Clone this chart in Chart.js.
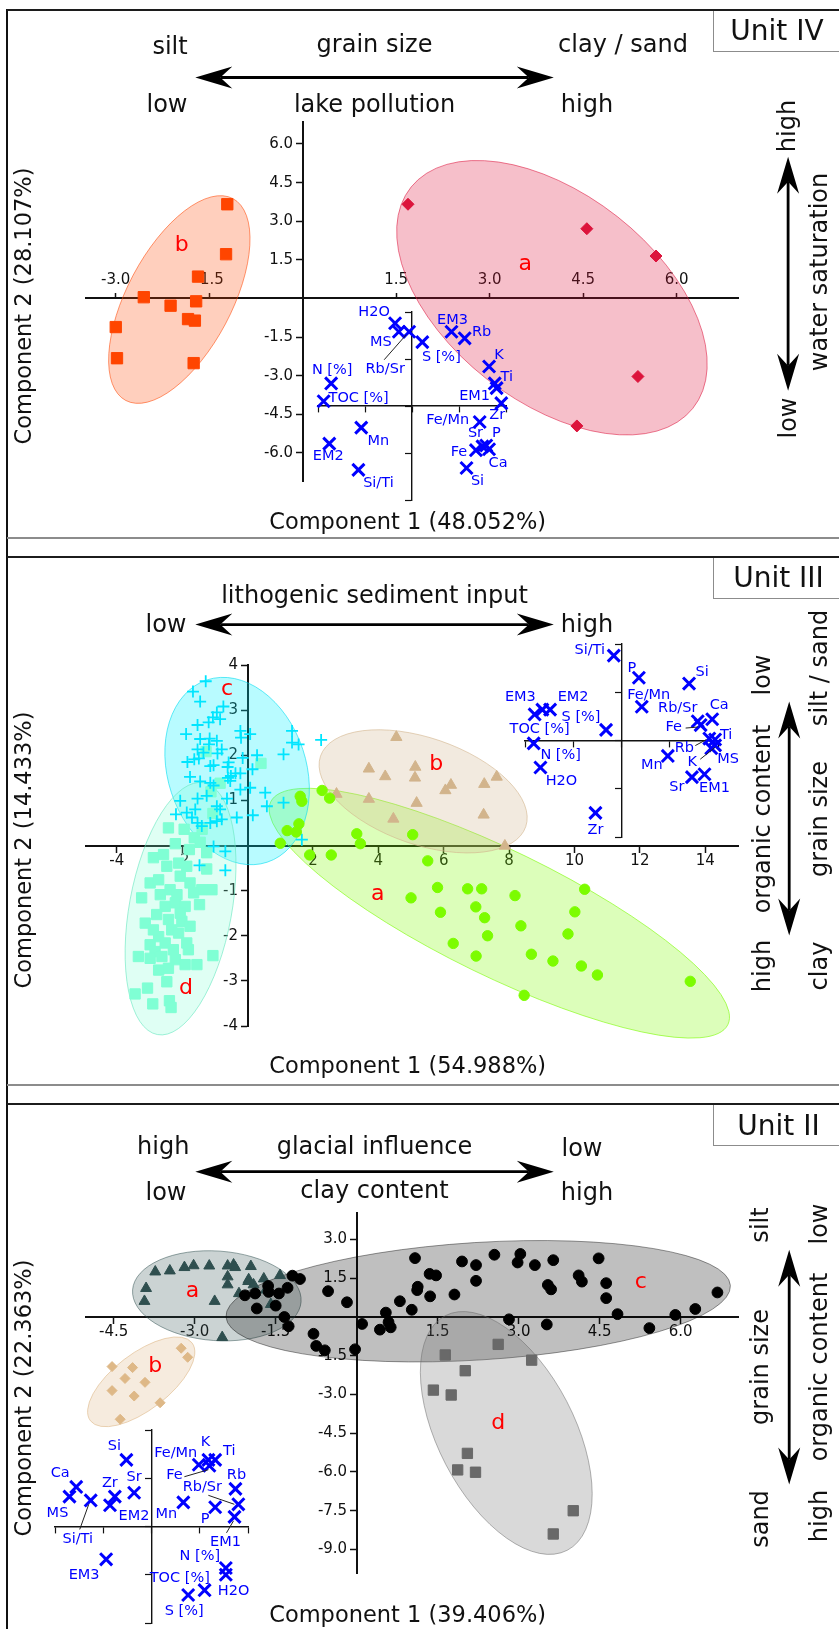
<!DOCTYPE html>
<html lang="en">
<head>
<meta charset="utf-8">
<title>PCA biplots – Units IV, III and II</title>
<script src="https://cdn.jsdelivr.net/npm/chart.js@4.4.1/dist/chart.umd.min.js"></script>
<style>
  html, body { margin: 0; padding: 0; background: #fff; }
  body {
    position: relative; width: 839px; height: 1629px; overflow: hidden;
    font-family: "DejaVu Sans", Verdana, sans-serif; color: #111;
  }
  canvas { position: absolute; }
  svg { position: absolute; left: 0; top: 0; }
  #frame { position: absolute; left: 5.7px; top: 9px; width: 2.4px; height: 1620px; background: #111; }
  .unit { position: absolute; left: 713px; width: 140px; height: 41px; border: 1.5px solid #8c8c8c; border-top: none; background: #fff; }
  .rule { position: absolute; left: 7px; width: 832px; }
  .rule.top { height: 1.5px; background: #1c1c1c; }
  .rule.bottom { height: 2px; background: #8c8c8c; }
  .t { position: absolute; white-space: nowrap; font-size: 24px; line-height: 1; transform: translate(-50%, -50%); }
  .t.r { transform: translate(-50%, -50%) rotate(-90deg); }
  .t.unitname { font-size: 28px; }
  .t.title { font-size: 22.5px; }
</style>
</head>
<body>
<div id="frame"></div>

<div class="unit" style="top:10px"></div>
<div class="unit" style="top:557px"></div>
<div class="unit" style="top:1104px"></div>

<div class="rule top" style="top:9px"></div>
<div class="rule bottom" style="top:536.7px"></div>
<div class="rule top" style="top:556px"></div>
<div class="rule bottom" style="top:1083.6px"></div>
<div class="rule top" style="top:1103px"></div>

<canvas id="unit4" width="839" height="528" style="left:0;top:10px"></canvas>
<canvas id="unit3" width="839" height="528" style="left:0;top:557px"></canvas>
<canvas id="unit2" width="839" height="528" style="left:0;top:1104px"></canvas>
<canvas id="unit4Inset" width="312" height="312" style="left:256px;top:250px"></canvas>
<canvas id="unit3Inset" width="317" height="317" style="left:463px;top:582px"></canvas>
<canvas id="unit2Inset" width="317" height="317" style="left:-7px;top:1368px"></canvas>

<svg id="arrows" width="839" height="1629"></svg>

<!-- Unit IV -->
<div class="t" style="left:170px;top:46px">silt</div>
<div class="t" style="left:374.5px;top:44px">grain size</div>
<div class="t" style="left:623px;top:44px">clay / sand</div>
<div class="t" style="left:167px;top:104px">low</div>
<div class="t" style="left:374.5px;top:103.5px">lake pollution</div>
<div class="t" style="left:587px;top:104px">high</div>
<div class="t unitname" style="left:777px;top:31px">Unit IV</div>
<div class="t title r" style="left:22.5px;top:305.6px">Component 2 (28.107%)</div>
<div class="t title" style="left:407.7px;top:521px">Component 1 (48.052%)</div>
<div class="t r" style="left:786.5px;top:125.7px">high</div>
<div class="t r" style="left:787.6px;top:418.4px">low</div>
<div class="t r" style="left:818.6px;top:272px">water saturation</div>

<!-- Unit III -->
<div class="t" style="left:374.5px;top:594.5px">lithogenic sediment input</div>
<div class="t" style="left:166px;top:624px">low</div>
<div class="t" style="left:587px;top:624px">high</div>
<div class="t unitname" style="left:778.5px;top:578px">Unit III</div>
<div class="t title r" style="left:22.5px;top:849.6px">Component 2 (14.433%)</div>
<div class="t title" style="left:407.7px;top:1065px">Component 1 (54.988%)</div>
<div class="t r" style="left:762.4px;top:674.6px">low</div>
<div class="t r" style="left:762.4px;top:819.3px">organic content</div>
<div class="t r" style="left:762.4px;top:966.4px">high</div>
<div class="t r" style="left:818.6px;top:667.5px">silt / sand</div>
<div class="t r" style="left:818.6px;top:819.3px">grain size</div>
<div class="t r" style="left:818.6px;top:966.4px">clay</div>

<!-- Unit II -->
<div class="t" style="left:163.2px;top:1146px">high</div>
<div class="t" style="left:374.5px;top:1146px">glacial influence</div>
<div class="t" style="left:582px;top:1148px">low</div>
<div class="t" style="left:166px;top:1191.5px">low</div>
<div class="t" style="left:374.5px;top:1190px">clay content</div>
<div class="t" style="left:587px;top:1191.5px">high</div>
<div class="t unitname" style="left:778.5px;top:1125.5px">Unit II</div>
<div class="t title r" style="left:22.5px;top:1397.8px">Component 2 (22.363%)</div>
<div class="t title" style="left:407.7px;top:1613.5px">Component 1 (39.406%)</div>
<div class="t r" style="left:759.8px;top:1225.3px">silt</div>
<div class="t r" style="left:759.8px;top:1367.1px">grain size</div>
<div class="t r" style="left:759.8px;top:1519.4px">sand</div>
<div class="t r" style="left:818.6px;top:1223.6px">low</div>
<div class="t r" style="left:818.6px;top:1367.1px">organic content</div>
<div class="t r" style="left:818.6px;top:1515.9px">high</div>

<script>
/* ===== DATA: UNIT IV ===== */
const unit4A = [[1.69,3.66],[4.56,2.71],[5.67,1.65],[5.38,-3.03],[4.40,-4.95]];
const unit4B = [[-1.21,3.66],[-1.23,1.72],[-1.68,0.85],[-2.55,0.05],[-2.12,-0.28],[-1.71,-0.11],[-1.84,-0.80],[-1.73,-0.86],[-3.00,-1.11],[-2.98,-2.32],[-1.75,-2.51]];
// confidence ellipses: centre x, centre y, then two conjugate semi-diameters (data units)
const unit4Ellipses = [[4.00,0.03,2.26,-4.30,-1.05,-3.15],[-1.98,-0.04,0.86,3.92,0.74,-0.95]];
const unit4Letters = ['a','b'];
const unit4LetterXY = [[3.57,1.32],[-1.94,2.07]];
const unit4XTicks = [-3.0,-1.5,1.5,3.0,4.5,6.0];
const unit4YTicks = [-6.0,-4.5,-3.0,-1.5,1.5,3.0,4.5,6.0];
const unit4Names = ['H2O','MS','Rb/Sr','S [%]','EM3','Rb','K','Ti','EM1','Zr','N [%]','TOC [%]','Fe/Mn','Fe','Sr','P','Ca','Si','Mn','EM2','Si/Ti'];
const unit4Loadings = [[-0.18,0.88],[-0.14,0.79],[-0.03,0.79],[0.11,0.68],[0.42,0.79],[0.56,0.72],[0.82,0.42],[0.88,0.24],[0.90,0.19],[0.95,0.03],[-0.86,0.24],[-0.94,0.05],[0.72,-0.17],[0.68,-0.47],[0.75,-0.43],[0.79,-0.42],[0.82,-0.46],[0.58,-0.66],[-0.54,-0.23],[-0.88,-0.40],[-0.57,-0.68]];

/* ===== DATA: UNIT III ===== */
const unit3A = [[2.28,1.22],[2.51,1.05],[1.61,1.09],[1.66,0.98],[1.57,0.48],[1.21,0.33],[1.49,0.30],[1.00,0.05],[1.90,-0.21],[2.56,-0.21],[3.34,0.26],[3.45,0.04],[5.05,0.24],[5.51,-0.34],[5.81,-0.93],[6.73,-0.96],[7.16,-0.96],[5.00,-1.16],[5.90,-1.48],[6.98,-1.36],[7.25,-1.60],[8.18,-1.11],[8.36,-1.78],[7.34,-2.00],[6.29,-2.17],[6.99,-2.45],[8.68,-2.41],[9.34,-2.56],[10.31,-0.97],[10.01,-1.47],[9.80,-1.96],[10.21,-2.67],[10.70,-2.87],[13.54,-3.01],[8.46,-3.32]];
const unit3B = [[4.55,2.40],[3.71,1.70],[4.21,1.53],[5.13,1.74],[5.12,1.50],[6.22,1.34],[6.05,1.22],[7.24,1.36],[7.62,1.52],[3.71,1.03],[5.17,0.94],[2.72,1.14],[4.46,0.59],[7.22,0.68],[7.87,-0.01]];
const unit3C = [[-1.28,3.64],[-1.67,3.41],[-1.45,3.19],[-0.74,3.08],[-0.94,2.95],[-0.84,2.80],[-1.06,2.84],[-1.19,2.73],[-1.53,2.67],[-1.88,2.47],[-1.45,2.36],[-1.16,2.37],[-0.94,2.32],[-1.18,2.24],[-0.22,2.54],[0.08,2.47],[-0.20,2.39],[-1.53,2.13],[-1.35,2.06],[-0.92,2.04],[0.29,2.00],[1.10,2.02],[1.36,2.54],[1.36,2.28],[1.56,2.24],[2.25,2.34],[-1.84,1.85],[-1.63,1.91],[-1.49,1.93],[-1.14,1.76],[-1.04,1.78],[-0.61,1.74],[-0.37,1.60],[-0.51,1.54],[-0.22,1.60],[0.15,1.69],[-1.76,1.52],[-1.45,1.42],[-1.14,1.39],[-1.04,1.33],[-0.53,1.43],[-0.60,1.50],[-0.15,1.94],[-0.22,1.24],[0.08,1.28],[0.54,1.17],[0.59,0.87],[1.10,0.95],[-2.06,0.99],[-1.53,1.04],[-1.25,1.10],[-0.94,0.87],[-0.63,1.04],[-1.86,0.73],[-1.60,0.80],[-2.19,0.69],[-1.70,0.62],[-1.53,0.50],[-1.40,0.43],[-1.14,0.50],[-0.94,0.54],[-0.79,0.58],[-0.84,0.80],[-0.33,0.62],[0.16,0.67],[-1.04,-0.02],[-0.68,-0.13],[-1.47,-0.44],[-0.68,-0.55],[1.66,0.13],[-0.79,2.13],[-0.58,1.84]];
const unit3D = [[-2.42,0.39],[-1.94,0.36],[-1.63,0.17],[-2.21,0.04],[-1.45,0.07],[-1.25,-0.16],[-2.88,-0.27],[-2.57,-0.20],[-1.78,-0.09],[-2.11,-0.39],[-2.47,-0.46],[-1.86,-0.46],[-1.25,-0.52],[-2.98,-0.83],[-2.72,-0.76],[-2.06,-0.68],[-1.76,-0.83],[-1.40,-0.98],[-1.09,-0.98],[-2.37,-0.98],[-2.16,-1.09],[-3.24,-1.16],[-2.52,-1.35],[-2.21,-1.27],[-1.91,-1.35],[-1.47,-1.31],[-2.78,-1.53],[-3.13,-1.72],[-2.42,-1.64],[-2.01,-1.68],[-1.76,-1.79],[-2.32,-1.87],[-2.11,-1.94],[-2.72,-2.02],[-2.98,-2.20],[-2.52,-2.16],[-2.83,-2.35],[-2.27,-2.31],[-1.86,-2.16],[-3.34,-2.46],[-2.98,-2.50],[-2.62,-2.46],[-2.21,-2.53],[-2.42,-2.72],[-1.91,-2.64],[-1.55,-2.64],[-1.06,-2.44],[-2.47,-3.02],[-3.06,-3.16],[-3.44,-3.29],[-2.90,-3.51],[-2.39,-3.44],[-2.34,-3.59],[-2.72,-2.76],[-1.27,2.08],[0.41,1.82],[-0.84,1.38],[-1.12,1.19],[-1.06,0.71],[-1.39,0.36],[-2.67,-1.09],[-1.65,-1.05],[-2.88,-1.87],[-2.06,-1.50],[-1.81,-2.31]];
const unit3Ellipses = [[7.70,-1.50,6.99,-2.47,-0.84,-1.25],[5.37,1.20,3.14,-0.78,-0.52,-1.12],[-0.32,1.65,0.92,-2.02,-2.01,-0.48],[-2.05,-1.40,0.71,2.79,1.54,-0.21]];
const unit3Letters = ['a','b','c','d'];
const unit3LetterXY = [[3.98,-1.09],[5.77,1.81],[-0.63,3.47],[-1.88,-3.16]];
const unit3XTicks = [-4,-2,2,4,6,8,10,12,14];
const unit3YTicks = [-4,-3,-2,-1,1,2,3,4];
const unit3Names = ['Si/Ti','P','Si','Fe/Mn','Rb/Sr','Fe','Ca','Ti','Rb','MS','K','Mn','Sr','EM1','Zr','H2O','N [%]','TOC [%]','EM3','EM2','S [%]'];
const unit3Loadings = [[-0.08,0.88],[0.18,0.65],[0.70,0.59],[0.21,0.35],[0.79,0.20],[0.82,0.16],[0.94,0.22],[0.97,0.01],[0.91,0.02],[0.97,-0.05],[0.93,-0.08],[0.48,-0.16],[0.73,-0.38],[0.86,-0.35],[-0.27,-0.75],[-0.84,-0.28],[-0.91,-0.03],[-0.90,0.27],[-0.82,0.32],[-0.74,0.32],[-0.16,0.11]];

/* ===== DATA: UNIT II ===== */
const unit2A = [[-3.90,1.11],[-3.93,0.61],[-3.73,1.75],[-3.46,1.79],[-3.19,1.92],[-3.02,1.99],[-2.73,1.98],[-2.39,1.98],[-2.28,2.02],[-2.25,1.92],[-1.96,1.96],[-2.39,1.56],[-2.39,1.25],[-2.01,1.38],[-1.72,1.48],[-1.42,1.61],[-2.18,0.91],[-2.63,0.61],[-1.91,1.25],[-1.88,0.96],[-1.59,0.49],[-2.49,-0.79],[-1.68,1.05],[-2.00,1.45]];
const unit2B = [[-3.25,-1.21],[-3.13,-1.56],[-4.53,-1.92],[-4.15,-1.96],[-4.29,-2.38],[-3.92,-2.53],[-4.53,-2.85],[-4.12,-3.06],[-3.64,-3.32],[-4.38,-3.96]];
const unit2C = [[-1.19,1.60],[-1.05,1.47],[-1.64,1.20],[-1.63,0.97],[-1.88,0.91],[-2.07,0.84],[-1.44,0.91],[-1.28,1.13],[-1.50,0.44],[-1.85,0.33],[-1.34,0.00],[-1.26,-0.36],[-0.80,-0.65],[-0.75,-1.12],[-0.59,-1.29],[-0.53,1.00],[-0.18,0.57],[-0.03,-1.25],[0.10,-0.27],[0.43,-0.49],[0.54,0.17],[0.59,-0.20],[0.63,-0.40],[0.80,0.61],[1.02,0.28],[1.08,2.28],[1.12,1.04],[1.13,1.17],[1.35,1.67],[1.47,1.61],[1.36,0.80],[1.81,0.87],[1.95,2.15],[2.21,2.01],[2.21,1.40],[2.55,2.41],[3.03,2.44],[2.98,2.11],[3.30,2.01],[3.64,2.20],[3.54,1.24],[3.60,1.07],[4.11,1.61],[4.17,1.37],[4.48,2.27],[4.62,1.31],[4.62,0.73],[4.83,0.11],[5.42,-0.43],[5.90,0.08],[6.27,0.31],[6.68,0.95],[2.82,-0.09],[3.52,-0.29]];
const unit2D = [[2.62,-1.06],[1.64,-1.47],[3.24,-1.67],[2.01,-2.08],[1.42,-2.83],[1.75,-3.02],[2.05,-5.28],[1.87,-5.92],[2.20,-6.01],[4.01,-7.50],[3.64,-8.40]];
const unit2Ellipses = [[-2.59,0.82,1.56,-0.23,-0.06,-1.73],[-3.99,-2.51,0.94,1.51,0.32,-0.86],[2.25,0.61,4.67,0.61,0.07,-2.27],[2.77,-4.49,1.13,-4.54,-1.12,-1.22]];
const unit2Letters = ['a','b','c','d'];
const unit2LetterXY = [[-3.04,0.98],[-3.73,-1.89],[5.26,1.34],[2.62,-4.12]];
const unit2XTicks = [-4.5,-3.0,-1.5,1.5,3.0,4.5,6.0];
const unit2YTicks = [-9.0,-7.5,-6.0,-4.5,-3.0,-1.5,1.5,3.0];
const unit2Names = ['Si','Ca','MS','Si/Ti','Zr','EM2','Sr','Fe/Mn','K','Ti','Fe','Rb','Rb/Sr','P','Mn','EM1','EM3','N [%]','TOC [%]','H2O','S [%]'];
const unit2Loadings = [[-0.26,0.69],[-0.78,0.41],[-0.85,0.31],[-0.63,0.27],[-0.38,0.31],[-0.43,0.22],[-0.18,0.35],[0.49,0.64],[0.59,0.69],[0.66,0.69],[0.60,0.63],[0.87,0.39],[0.90,0.23],[0.66,0.20],[0.33,0.25],[0.86,0.10],[-0.47,-0.34],[0.77,-0.43],[0.77,-0.50],[0.55,-0.66],[0.38,-0.71]];

/* ===== LABEL PLACEMENT (pixels from each loading marker) ===== */
const unit4LabelAt = {'H2O':[-21,-11],'MS':[-18,10],'Rb/Sr':[-24,37],'S [%]':[19,15],'EM3':[1,-12],'Rb':[17,-6],'K':[10,-11],'Ti':[12,-6],'EM1':[-22,8],'Zr':[-4,12],'N [%]':[1,-13],'TOC [%]':[35,-3],'Fe/Mn':[-32,-2],'Fe':[-17,2],'Sr':[-7,-13],'P':[10,-12],'Ca':[9,14],'Si':[11,13],'Mn':[17,14],'EM2':[-1,13],'Si/Ti':[20,13]};
const unit4Leaders = [['Rb/Sr',-3,3,-25,28]];
const unit3LabelAt = {'Si/Ti':[-24,-5],'P':[-7,-10],'Si':[13,-11],'Fe/Mn':[7,-11],'Rb/Sr':[-20,-13],'Fe':[-27,2],'Ca':[7,-14],'Ti':[11,-4],'Rb':[-25,10],'MS':[13,14],'K':[-19,14],'Mn':[-16,9],'Sr':[-15,10],'EM1':[10,14],'Zr':[0,17],'H2O':[21,14],'N [%]':[27,12],'TOC [%]':[5,15],'EM3':[-22,-12],'EM2':[23,-12],'S [%]':[-25,-13]};
const unit3Leaders = [['Fe',-15,3,-3,2],['Rb',-14,7,-3,1],['K',-11,11,4,-1]];
const unit2LabelAt = {'Si':[-12,-14],'Ca':[-16,-14],'MS':[-12,17],'Si/Ti':[-13,39],'Zr':[-5,-13],'EM2':[24,11],'Sr':[0,-15],'Fe/Mn':[-23,-12],'K':[-3,-18],'Ti':[14,-9],'Fe':[-35,10],'Rb':[1,-14],'Rb/Sr':[-36,-17],'P':[-10,12],'Mn':[-17,12],'EM1':[-9,25],'EM3':[-22,16],'N [%]':[-26,-12],'TOC [%]':[-46,3],'H2O':[29,1],'S [%]':[-4,16]};
const unit2Leaders = [['Si/Ti',-2,4,-11,29],['Fe',-25,11,-1,4],['Rb/Sr',-30,-9,-4,0],['EM1',-1,4,-8,16]];

/* ===== CHART HELPERS ===== */
const FONT = '"DejaVu Sans", Verdana, sans-serif';
Chart.defaults.font.family = FONT;
Chart.defaults.color = '#111';

const xy = pts => pts.map(([x, y]) => ({ x, y }));

function axis(min, max, values, at, label, tickLength, padding) {
  return {
    type: 'linear', bounds: 'data', position: at, min, max,
    afterBuildTicks: scale => { scale.ticks = values.map(value => ({ value })); },
    border: { display: true, color: '#111', width: 2 },
    grid: { display: true, drawOnChartArea: false, drawTicks: true, tickLength, tickColor: '#111', tickWidth: 1.5 },
    ticks: { autoSkip: false, maxRotation: 0, minRotation: 0, padding, color: '#111', font: { family: FONT, size: 15 }, callback: label }
  };
}

function insetAxis(at) {
  return {
    type: 'linear', bounds: 'data', position: at, min: -1, max: 1,
    afterBuildTicks: scale => { scale.ticks = [-1, -0.5, 0, 0.5, 1].map(value => ({ value })); },
    border: { display: true, color: '#111', width: 1.4 },
    grid: { display: true, drawOnChartArea: false, drawTicks: true, tickLength: 6, tickColor: '#111', tickWidth: 1.2 },
    ticks: { display: false }
  };
}

function ellipsePlugin(rows, styles) {
  return {
    id: 'groupEllipses',
    beforeDatasetsDraw(chart) {
      const { ctx, scales: { x, y } } = chart;
      rows.forEach(([cx, cy, ux, uy, vx, vy], i) => {
        const px = x.getPixelForValue(cx), py = y.getPixelForValue(cy);
        const ax = x.getPixelForValue(cx + ux) - px, ay = y.getPixelForValue(cy + uy) - py;
        const bx = x.getPixelForValue(cx + vx) - px, by = y.getPixelForValue(cy + vy) - py;
        ctx.save();
        ctx.beginPath();
        ctx.transform(ax, ay, bx, by, px, py);
        ctx.arc(0, 0, 1, 0, Math.PI * 2);
        ctx.restore();
        ctx.save();
        ctx.fillStyle = styles[i][0];
        ctx.strokeStyle = styles[i][1];
        ctx.lineWidth = 1;
        ctx.fill();
        ctx.stroke();
        ctx.restore();
      });
    }
  };
}

function letterPlugin(letters, pos) {
  return {
    id: 'groupLetters',
    afterDatasetsDraw(chart) {
      const { ctx, scales: { x, y } } = chart;
      ctx.save();
      ctx.font = '22px ' + FONT;
      ctx.fillStyle = '#ff0000';
      ctx.textAlign = 'center';
      ctx.textBaseline = 'middle';
      letters.forEach((l, i) => ctx.fillText(l, x.getPixelForValue(pos[i][0]), y.getPixelForValue(pos[i][1])));
      ctx.restore();
    }
  };
}

function namePlugin(names, labelAt, leaders) {
  return {
    id: 'loadingNames',
    afterDatasetsDraw(chart) {
      const ctx = chart.ctx;
      const pts = chart.getDatasetMeta(0).data;
      ctx.save();
      ctx.strokeStyle = '#222';
      ctx.lineWidth = 1;
      leaders.forEach(([n, x1, y1, x2, y2]) => {
        const p = pts[names.indexOf(n)];
        ctx.beginPath();
        ctx.moveTo(p.x + x1, p.y + y1);
        ctx.lineTo(p.x + x2, p.y + y2);
        ctx.stroke();
      });
      ctx.font = '14.5px ' + FONT;
      ctx.fillStyle = '#0000ff';
      ctx.textAlign = 'center';
      ctx.textBaseline = 'middle';
      names.forEach((n, i) => {
        const [dx, dy] = labelAt[n];
        ctx.fillText(n, pts[i].x + dx, pts[i].y + dy);
      });
      ctx.restore();
    }
  };
}

function group(points, style, radius, color, width) {
  return { data: xy(points), pointStyle: style, pointRadius: radius, pointHoverRadius: radius,
           backgroundColor: color, borderColor: color, borderWidth: width || 1 };
}

function mainChart(id, cfg) {
  return new Chart(document.getElementById(id), {
    type: 'scatter',
    data: { datasets: cfg.groups },
    options: {
      responsive: false, animation: false, events: [],
      layout: { padding: cfg.padding },
      plugins: { legend: { display: false }, tooltip: { enabled: false } },
      scales: { x: cfg.x, y: cfg.y }
    },
    plugins: [ellipsePlugin(cfg.ellipses, cfg.ellipseStyles), letterPlugin(cfg.letters, cfg.letterXY)]
  });
}

function insetChart(id, names, loadings, labelAt, leaders) {
  return new Chart(document.getElementById(id), {
    type: 'scatter',
    data: { datasets: [{ data: xy(loadings), pointStyle: 'crossRot', pointRadius: 8.5, pointHoverRadius: 8.5,
                         borderColor: '#0000ff', backgroundColor: '#0000ff', borderWidth: 3, clip: false }] },
    options: {
      responsive: false, animation: false, events: [],
      layout: { padding: 62 },
      plugins: { legend: { display: false }, tooltip: { enabled: false } },
      scales: { x: insetAxis({ y: 0 }), y: insetAxis({ x: 0 }) }
    },
    plugins: [namePlugin(names, labelAt, leaders)]
  });
}

const oneDec = v => v.toFixed(1);
const oneDecY = v => v.toFixed(1) + '  ';

/* ===== UNIT IV ===== */
mainChart('unit4', {
  padding: { left: 85.6, right: 101, top: 111.7, bottom: 56.3 },
  x: axis(-3.484, 6.986, unit4XTicks, { y: 0 }, oneDec, -6, -21),
  y: axis(-7.115, 6.866, unit4YTicks, { x: 0 }, oneDecY, 6, 0),
  groups: [
    group(unit4A, 'rectRot', 6, '#dc143c'),
    group(unit4B, 'rect', 8, '#ff4500')
  ],
  ellipses: unit4Ellipses,
  ellipseStyles: [['rgba(220,20,60,0.27)', 'rgba(220,20,60,0.55)'], ['rgba(255,69,0,0.26)', 'rgba(255,69,0,0.55)']],
  letters: unit4Letters, letterXY: unit4LetterXY
});

/* ===== UNIT III ===== */
mainChart('unit3', {
  padding: { left: 85.6, right: 101, top: 108, bottom: 59 },
  x: axis(-4.954, 15.0, unit3XTicks, { y: 0 }, v => String(v), 6, 1),
  y: axis(-4, 4, unit3YTicks, { x: 0 }, v => v + '  ', 6, 0),
  groups: [
    group(unit3A, 'circle', 5.2, '#7cfc00'),
    group(unit3B, 'triangle', 6.5, '#d2b48c'),
    group(unit3C, 'cross', 6, '#00e5ff', 1.8),
    group(unit3D, 'rect', 7.3, '#7fffd4')
  ],
  ellipses: unit3Ellipses,
  ellipseStyles: [['rgba(124,252,0,0.27)', 'rgba(124,252,0,0.6)'], ['rgba(210,180,140,0.28)', 'rgba(210,180,140,0.6)'],
                  ['rgba(0,240,255,0.28)', 'rgba(0,220,240,0.6)'], ['rgba(127,255,212,0.25)', 'rgba(100,230,190,0.6)']],
  letters: unit3Letters, letterXY: unit3LetterXY
});

/* ===== UNIT II ===== */
mainChart('unit2', {
  padding: { left: 85.6, right: 101, top: 109, bottom: 58.3 },
  x: axis(-5.020, 7.061, unit2XTicks, { y: 0 }, oneDec, 6, 0),
  y: axis(-9.938, 4.026, unit2YTicks, { x: 0 }, oneDecY, 6, 0),
  groups: [
    group(unit2C, 'circle', 5.4, '#000000'),
    group(unit2A, 'triangle', 6.3, '#2f4f4f'),
    group(unit2D, 'rect', 7.3, '#696969'),
    group(unit2B, 'rectRot', 5, '#deb887')
  ],
  ellipses: unit2Ellipses,
  ellipseStyles: [['rgba(47,79,79,0.25)', 'rgba(47,79,79,0.5)'], ['rgba(222,184,135,0.28)', 'rgba(222,184,135,0.6)'],
                  ['rgba(0,0,0,0.25)', 'rgba(0,0,0,0.4)'], ['rgba(105,105,105,0.25)', 'rgba(105,105,105,0.5)']],
  letters: unit2Letters, letterXY: unit2LetterXY
});

/* ===== LOADING INSETS ===== */
insetChart('unit4Inset', unit4Names, unit4Loadings, unit4LabelAt, unit4Leaders);
insetChart('unit3Inset', unit3Names, unit3Loadings, unit3LabelAt, unit3Leaders);
insetChart('unit2Inset', unit2Names, unit2Loadings, unit2LabelAt, unit2Leaders);

/* ===== ARROWS ===== */
function arrowPath(x1, y1, x2, y2) {
  const L = 37, H = 11, N = 25;
  const len = Math.hypot(x2 - x1, y2 - y1);
  const dx = (x2 - x1) / len, dy = (y2 - y1) / len, nx = -dy, ny = dx;
  const head = (tx, ty, sx, sy) =>
    `<path d="M${tx},${ty} L${tx - sx * L + nx * H},${ty - sy * L + ny * H} L${tx - sx * N},${ty - sy * N} L${tx - sx * L - nx * H},${ty - sy * L - ny * H} Z" fill="#000"/>`;
  return `<line x1="${x1 + dx * N}" y1="${y1 + dy * N}" x2="${x2 - dx * N}" y2="${y2 - dy * N}" stroke="#000" stroke-width="2.8"/>` +
         head(x2, y2, dx, dy) + head(x1, y1, -dx, -dy);
}
document.getElementById('arrows').innerHTML =
  arrowPath(195.3, 77.5, 553.8, 77.5) +
  arrowPath(195.3, 624.6, 553.8, 624.6) +
  arrowPath(195.3, 1171.7, 553.8, 1171.7) +
  arrowPath(788.1, 156.7, 788.1, 390.8) +
  arrowPath(789.2, 701.4, 789.2, 935.4) +
  arrowPath(789.2, 1249.8, 789.2, 1484.4);
</script>
</body>
</html>
